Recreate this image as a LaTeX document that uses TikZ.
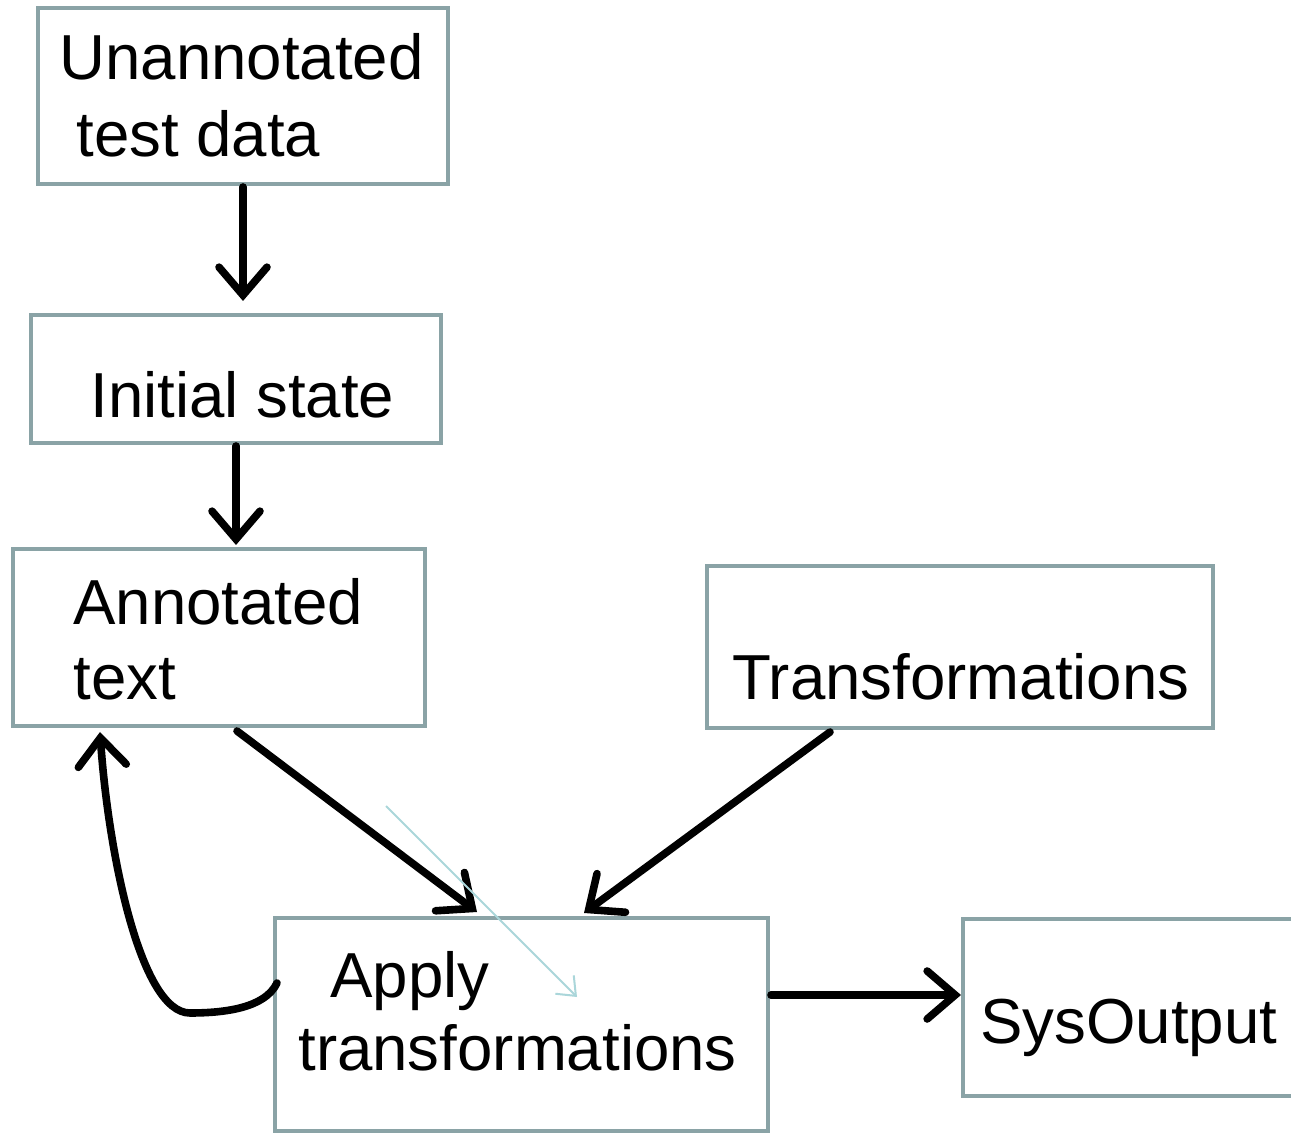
\documentclass[tikz,border=0pt]{standalone}
\usepackage{fontspec}
\setmainfont{Liberation Sans}
\usetikzlibrary{arrows.meta,fit}
\definecolor{boxgray}{RGB}{138,163,166}
\definecolor{lightcyan}{RGB}{170,214,218}
\tikzset{
  box/.style={draw=boxgray, line width=2pt, inner sep=0pt, fill=white},
  lbl/.style={anchor=base west, inner sep=0pt, font=\fontsize{31.8pt}{37pt}\selectfont},
  conn/.style={line width=3.8pt, line cap=round, -{Straight Barb[length=14pt,width=24pt,line width=3.8pt,line cap=round]}},
  thin/.style={draw=lightcyan, line width=1pt, -{Straight Barb[length=8pt,width=13pt,line width=1pt]}}
}
\begin{document}
\begin{tikzpicture}[x=0.5pt,y=-0.5pt]
\useasboundingbox (0,0) rectangle (1291,1133);
% boxes
\node[box, fit={(38,8) (448,184)}] (u) {};
\node[box, fit={(31,315) (441,443)}] (i) {};
\node[box, fit={(13,549) (425,726)}] (a) {};
\node[box, fit={(707,566) (1213,728)}] (t) {};
\node[box, fit={(275,918) (768,1131)}] (p) {};
\node[box, fit={(963,919) (1310,1096)}] (s) {};
% labels
\node[lbl] (u1) at (59,80) {Unannotated};
\node[lbl] (u2) at (76,157) {test data};
\node[lbl] (i1) at (90,418) {Initial state};
\node[lbl] (a1) at (73,625) {Annotated};
\node[lbl] (a2) at (73,700) {text};
\node[lbl] (t1) at (732,700) {Transformations};
\node[lbl] (p1) at (330,997) {Apply};
\node[lbl] (p2) at (298,1070) {transformations};
\node[lbl] (s1) at (980,1043) {SysOutput};
% connector endpoints
\coordinate (c1a) at (243,187);
\coordinate (c1b) at (243,301);
\coordinate (c2a) at (236,446);
\coordinate (c2b) at (236,545);
\coordinate (c3a) at (237,731);
\coordinate (c3b) at (477,912);
\coordinate (c4a) at (830,732);
\coordinate (c4b) at (584,913);
\coordinate (c5a) at (771,995);
\coordinate (c5b) at (961,995);
\coordinate (c6a) at (277,983);
\coordinate (c6m) at (190,1013);
\coordinate (c6b) at (100,732);
\coordinate (c7a) at (386,806);
\coordinate (c7b) at (577,997);
% connectors
\draw[conn] (c1a) -- (c1b);
\draw[conn] (c2a) -- (c2b);
\draw[conn] (c3a) -- (c3b);
\draw[conn] (c4a) -- (c4b);
\draw[conn] (c5a) -- (c5b);
\draw[conn] (c6a) .. controls (265,1008) and (225,1013) .. (c6m) .. controls (140,1013) and (108,850) .. (c6b);
\draw[thin] (c7a) -- (c7b);
\end{tikzpicture}
\end{document}
